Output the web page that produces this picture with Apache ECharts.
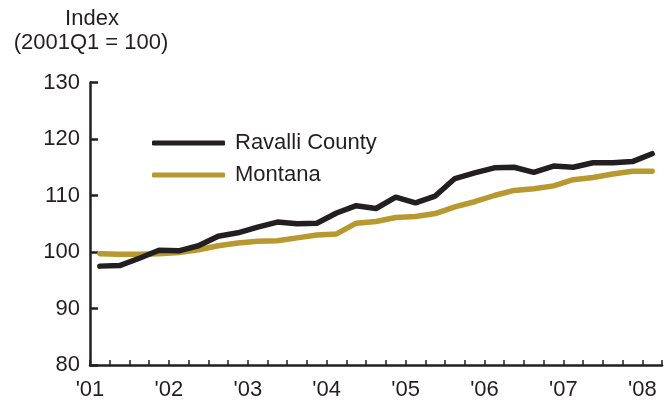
<!DOCTYPE html>
<html>
<head>
<meta charset="utf-8">
<script src="https://cdn.jsdelivr.net/npm/echarts@6/dist/echarts.min.js"></script>
<style>
  html, body { margin: 0; padding: 0; background: #fff; }
  #chart { width: 667px; height: 401px; }
</style>
</head>
<body>
<div id="chart"></div>
<script>
// Quarterly index, 2001Q1 through 2008Q1 (2001Q1 = 100)
const quarters = [
  '2001Q1','2001Q2','2001Q3','2001Q4',
  '2002Q1','2002Q2','2002Q3','2002Q4',
  '2003Q1','2003Q2','2003Q3','2003Q4',
  '2004Q1','2004Q2','2004Q3','2004Q4',
  '2005Q1','2005Q2','2005Q3','2005Q4',
  '2006Q1','2006Q2','2006Q3','2006Q4',
  '2007Q1','2007Q2','2007Q3','2007Q4',
  '2008Q1'
];
const ravalli = [97.5, 97.6, 98.9, 100.3, 100.2, 101.1, 102.8, 103.4, 104.4, 105.3, 105.0, 105.1, 106.9, 108.2, 107.7, 109.7, 108.7, 109.9, 113.0, 114.0, 114.9, 115.0, 114.1, 115.2, 115.0, 115.8, 115.8, 116.0, 117.4];
const montana = [99.7, 99.6, 99.6, 99.7, 99.9, 100.4, 101.1, 101.6, 101.9, 102.0, 102.5, 103.0, 103.2, 105.1, 105.4, 106.1, 106.3, 106.8, 108.0, 108.9, 110.0, 110.9, 111.2, 111.7, 112.8, 113.2, 113.8, 114.3, 114.3];
const yearLabels = ["'01", "'02", "'03", "'04", "'05", "'06", "'07", "'08"];
const seriesNames = ['Ravalli County', 'Montana'];

const INK = '#231f20';
const GOLD = '#b8992f';
const FONT = 'Liberation Sans, Arial, sans-serif';
const FS = 22;

// each quarter occupies one unit on the x scale; points sit mid-quarter
const toPoints = arr => arr.map((v, i) => [i + 0.5, v]);

const chart = echarts.init(document.getElementById('chart'), null, { renderer: 'canvas' });
chart.setOption({
  animation: false,
  backgroundColor: '#fff',
  textStyle: { fontFamily: FONT },
  graphic: [
    {
      type: 'text', x: 92, y: 8,
      style: { text: 'Index', font: FS + 'px ' + FONT, fill: INK, textAlign: 'center', textVerticalAlign: 'top' }
    },
    {
      type: 'text', x: 91, y: 32,
      style: { text: '(2001Q1 = 100)', font: FS + 'px ' + FONT, fill: INK, textAlign: 'center', textVerticalAlign: 'top' }
    }
  ],
  legend: {
    orient: 'vertical',
    left: 152,
    top: 132,
    padding: 0,
    itemWidth: 73,
    itemHeight: 5,
    itemGap: 10,
    icon: 'roundRect',
    textStyle: { fontSize: FS, color: INK, fontFamily: FONT, padding: [0, 0, 0, 5] },
    data: seriesNames
  },
  grid: { left: 90, right: 5, top: 82.5, bottom: 36, containLabel: false },
  xAxis: {
    type: 'value',
    min: 0,
    max: quarters.length,
    interval: 1,
    axisLine: { show: true, lineStyle: { color: INK, width: 2.5 } },
    axisTick: { show: true, inside: true, length: 5, lineStyle: { color: INK, width: 1.5 } },
    splitLine: { show: false },
    axisLabel: {
      show: true,
      margin: 14,
      fontSize: FS,
      color: INK,
      fontFamily: FONT,
      showMinLabel: true,
      showMaxLabel: true,
      formatter: v => (v % 4 === 0 && v / 4 < yearLabels.length) ? yearLabels[v / 4] : ''
    }
  },
  yAxis: {
    type: 'value',
    min: 80,
    max: 130,
    interval: 10,
    axisLine: { show: true, lineStyle: { color: INK, width: 2.5 } },
    axisTick: { show: true, inside: true, length: 8, lineStyle: { color: INK, width: 2.5 } },
    splitLine: { show: false },
    axisLabel: { fontSize: FS, color: INK, fontFamily: FONT, margin: 10 }
  },
  series: [
    {
      name: seriesNames[0],
      type: 'line',
      data: toPoints(ravalli),
      showSymbol: false,
      symbol: 'none',
      color: INK,
      lineStyle: { color: INK, width: 5.5, cap: 'round', join: 'round' },
      z: 3
    },
    {
      name: seriesNames[1],
      type: 'line',
      data: toPoints(montana),
      showSymbol: false,
      symbol: 'none',
      color: GOLD,
      lineStyle: { color: GOLD, width: 5.5, cap: 'round', join: 'round' },
      z: 2
    }
  ]
});
</script>
</body>
</html>
